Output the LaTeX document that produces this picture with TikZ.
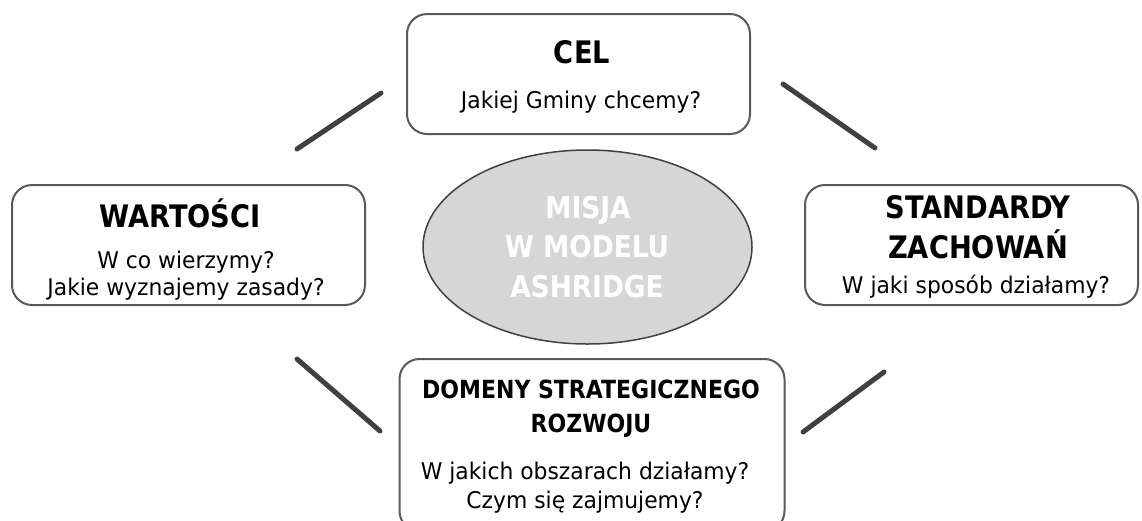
\documentclass[tikz,border=0pt]{standalone}
\usepackage{fontspec}
\setmainfont{DejaVu Sans}[FakeStretch=0.95]
\newfontfamily\headfont{DejaVu Sans}[FakeStretch=0.88]
\usetikzlibrary{shapes.geometric}
\definecolor{boxgray}{HTML}{595959}
\definecolor{linegray}{HTML}{404040}
\definecolor{ellfill}{HTML}{D6D6D6}
\begin{document}
\begin{tikzpicture}[x=1pt,y=-1pt,
  box/.style={draw=boxgray, line width=2pt, rounded corners=20pt, fill=white, inner sep=0pt},
  conn/.style={draw=linegray, line width=5pt, line cap=round},
  head/.style={anchor=base, inner sep=0pt, font=\headfont\bfseries\fontsize{31}{36}\selectfont, text=black},
  headsm/.style={anchor=base, inner sep=0pt, font=\headfont\bfseries\fontsize{25}{30}\selectfont, text=black},
  body/.style={anchor=base, inner sep=0pt, font=\fontsize{23}{27}\selectfont, text=black},
  elltext/.style={anchor=base, inner sep=0pt, font=\headfont\bfseries\fontsize{30}{36}\selectfont, text=white}]
\useasboundingbox (0,0) rectangle (1142,520);
\begin{scope}
\clip (0,0) rectangle (1142,520);
% boxes
\node[box, minimum width=343pt, minimum height=120pt] (cel) at (578.5,74) {};
\node[box, minimum width=353pt, minimum height=120pt] (wart) at (188.5,245) {};
\node[box, minimum width=333pt, minimum height=120pt] (stand) at (971.5,245) {};
\node[box, minimum width=385pt, minimum height=172pt] (dom) at (592,445) {};
% ellipse
\node[ellipse, draw=linegray, line width=1.5pt, fill=ellfill, minimum width=329pt, minimum height=194pt, inner sep=0pt] (misja) at (587.5,247) {};
% connectors
\coordinate (tl1) at (297,149); \coordinate (tl2) at (381,93);
\coordinate (tr1) at (783,84); \coordinate (tr2) at (875,148);
\coordinate (bl1) at (297,359); \coordinate (bl2) at (380,431);
\coordinate (br1) at (803,432); \coordinate (br2) at (884,372);
\draw[conn] (tl1) -- (tl2);
\draw[conn] (tr1) -- (tr2);
\draw[conn] (bl1) -- (bl2);
\draw[conn] (br1) -- (br2);
\end{scope}
% texts
\node[head] (celh) at (582,63) {CEL};
\node[body] (celb) at (581,108) {Jakiej Gminy chcemy?};
\node[head] (warth) at (180,227) {WARTOŚCI};
\node[body] (wartb1) at (186,268) {W co wierzymy?};
\node[body] (wartb2) at (186,295) {Jakie wyznajemy zasady?};
\node[head] (standh1) at (978,218) {STANDARDY};
\node[head] (standh2) at (978,258) {ZACHOWAŃ};
\node[body] (standb) at (976,293) {W jaki sposób działamy?};
\node[headsm] (domh1) at (591,398) {DOMENY STRATEGICZNEGO};
\node[headsm] (domh2) at (591,432) {ROZWOJU};
\node[body] (domb1) at (585,479) {W jakich obszarach działamy?};
\node[body] (domb2) at (585,508) {Czym się zajmujemy?};
\node[elltext] (mis1) at (588,218) {MISJA};
\node[elltext] (mis2) at (587,257) {W MODELU};
\node[elltext] (mis3) at (587,297) {ASHRIDGE};
\end{tikzpicture}
\end{document}
